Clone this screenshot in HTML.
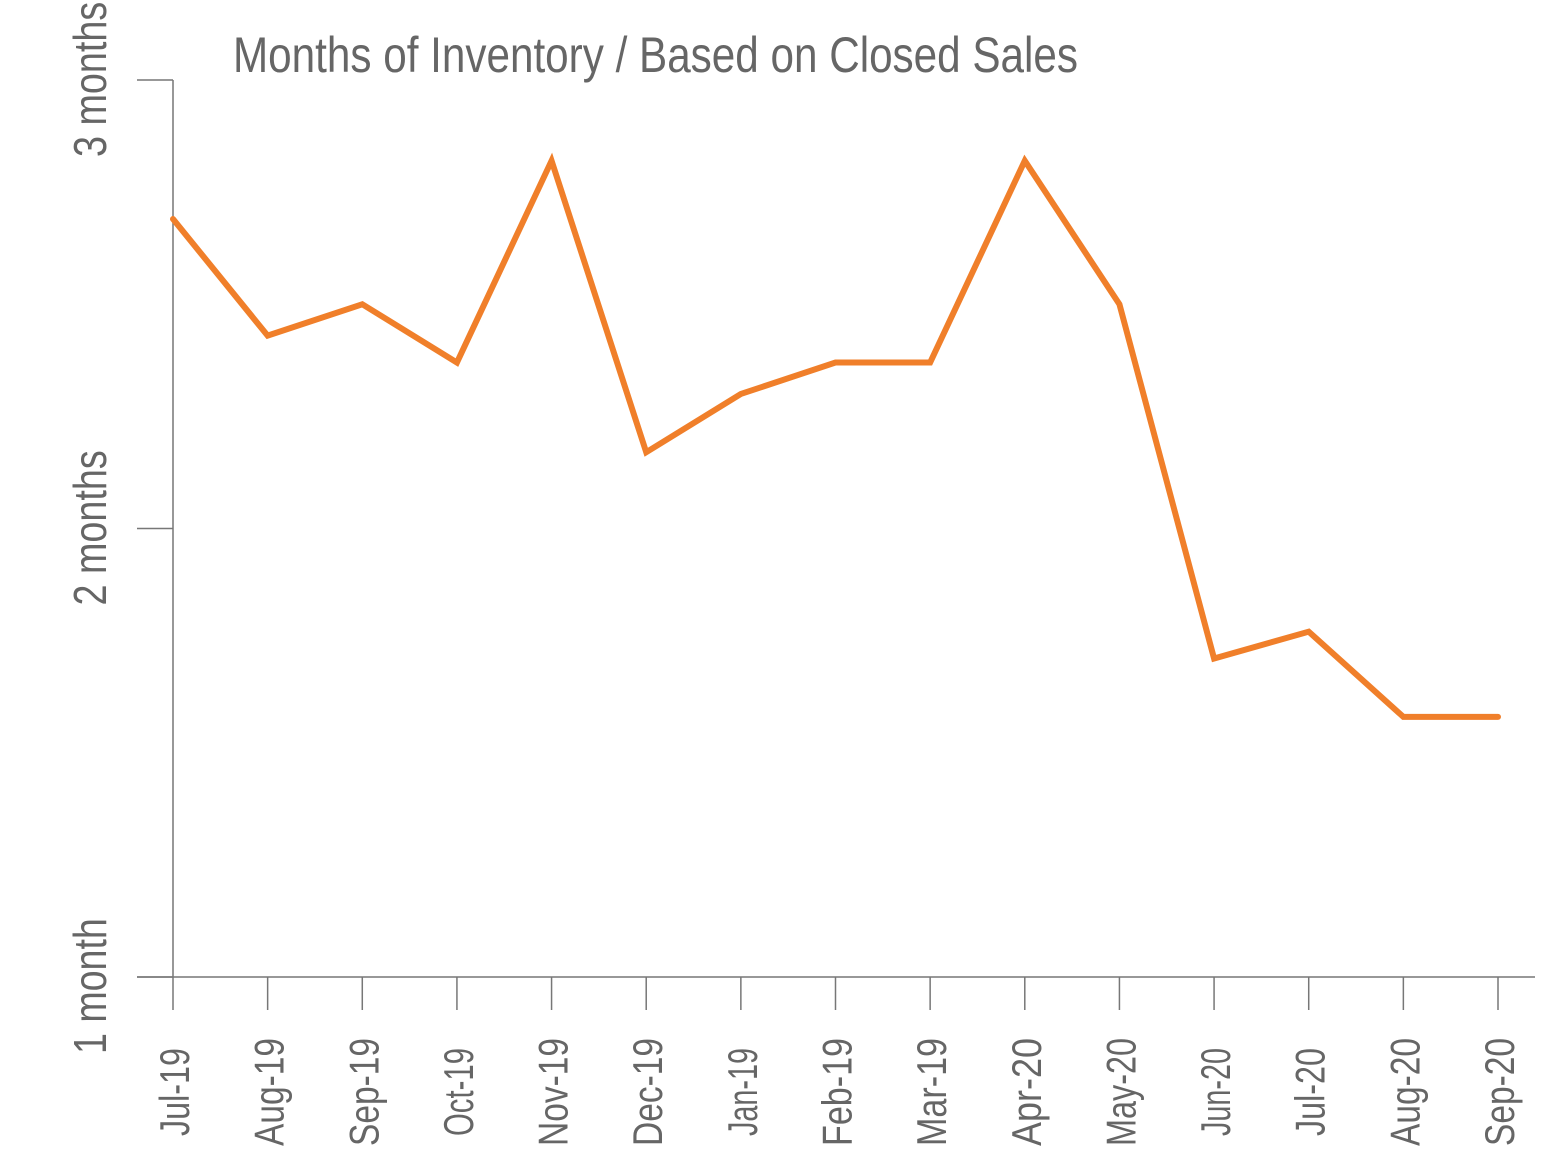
<!DOCTYPE html>
<html><head><meta charset="utf-8"><style>
html,body{margin:0;padding:0;background:#fff;}
svg text{font-family:"Liberation Sans Narrow","Liberation Sans",sans-serif;fill:#666;}
</style></head><body>
<svg id="chart" width="1558" height="1162" viewBox="0 0 1558 1162" xmlns="http://www.w3.org/2000/svg">
<text x="233" y="72" font-size="50" textLength="845" lengthAdjust="spacingAndGlyphs">Months of Inventory / Based on Closed Sales</text>
<g id="axes"></g>
<g id="series"></g>
</svg>
<script>
const categories = ["Jul-19","Aug-19","Sep-19","Oct-19","Nov-19","Dec-19","Jan-19","Feb-19","Mar-19","Apr-20","May-20","Jun-20","Jul-20","Aug-20","Sep-20"];
const values = [2.69,2.43,2.50,2.37,2.82,2.17,2.30,2.37,2.37,2.82,2.50,1.71,1.77,1.58,1.58];
const yTicks = [1,2,3];
const yTickLabels = ["1 month","2 months","3 months"];

const NS="http://www.w3.org/2000/svg";
const x0=173,x1=1498,yBase=977,yTop=80,vMin=1,vMax=3;
function xs(i){return x0+(x1-x0)*i/(categories.length-1);}
function ys(v){return yBase-(v-vMin)/(vMax-vMin)*(yBase-yTop);}
function mk(tag,attrs,parent){const e=document.createElementNS(NS,tag);for(const k in attrs)e.setAttribute(k,attrs[k]);parent.appendChild(e);return e;}
const axes=document.getElementById('axes');
const series=document.getElementById('series');

let yl=mk('line',{x1:x0,y1:ys(vMax),x2:x0,y2:yBase,stroke:'#777','stroke-width':1.5},axes);


let xl=mk('line',{x1:137,y1:yBase,x2:1535,y2:yBase,stroke:'#777','stroke-width':1.5},axes);



yTicks.forEach((v,i)=>{
  const y=ys(v);
  const t=mk('line',{x1:137,y1:y,x2:x0,y2:y,stroke:'#777','stroke-width':1.5},axes);
  
  
  const len=yTickLabels[i].length*19.4;
  const lab=mk('text',{x:0,y:0,'font-size':46,textLength:len,lengthAdjust:'spacingAndGlyphs',transform:`translate(106,${y+77}) rotate(-90)`},axes);
  
  
  lab.textContent=yTickLabels[i];
});

categories.forEach((c,i)=>{
  const x=xs(i);
  const t=mk('line',{x1:x,y1:yBase,x2:x,y2:1010,stroke:'#777','stroke-width':1.5},axes);
  
  
  const w=/^(Jul|Jan|Jun|Oct)/.test(c)?88:108;
  const lab=mk('text',{x:0,y:0,'font-size':42,'text-anchor':'middle',textLength:w,lengthAdjust:'spacingAndGlyphs',transform:`translate(${x+16},1092) rotate(-90)`},axes);
  
  
  lab.textContent=c;
});

const pts=values.map((v,i)=>xs(i)+','+ys(v)).join(' ');
const line=mk('polyline',{points:pts,fill:'none',stroke:'#f07f2a','stroke-width':6,'stroke-linejoin':'miter','stroke-linecap':'round'},series);


</script>
</body></html>
